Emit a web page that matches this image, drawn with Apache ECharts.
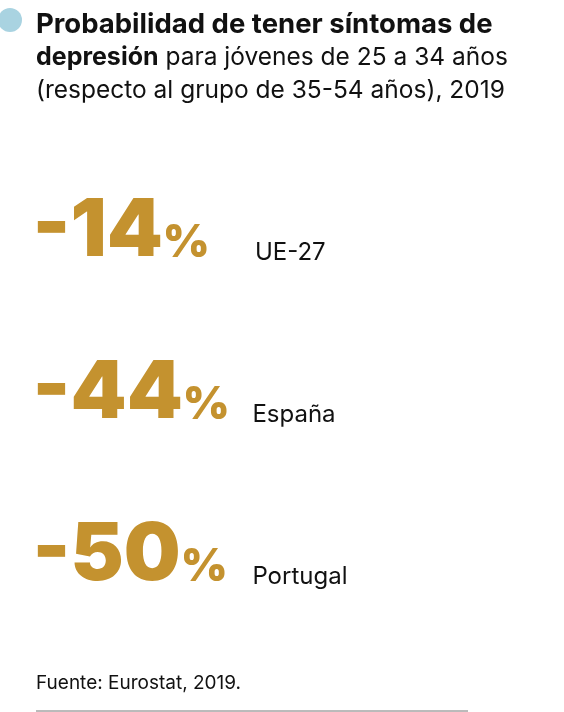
<!DOCTYPE html>
<html>
<head>
<meta charset="utf-8">
<script src="https://cdn.jsdelivr.net/npm/echarts@6/dist/echarts.min.js"></script>
<style>
  html, body { margin: 0; padding: 0; background: #fff; }
  #chart { width: 564px; height: 712px; }
</style>
</head>
<body>
<div id="chart"></div>
<script>
'use strict';

var paises = ['UE-27', 'España', 'Portugal'];
var valores = [-14, -44, -50];
var tituloLineas = [
  ['Probabilidad de tener síntomas de', ''],
  ['depresión', ' para jóvenes de 25 a 34 años'],
  ['', '(respecto al grupo de 35-54 años), 2019']
];
var fuente = 'Fuente: Eurostat, 2019.';

var dorado = '#c4922f';
var fuenteTexto = 'Inter, Roboto, sans-serif';

// la primera linea en negrita va algo mas ancha en el original
var tituloTexto = tituloLineas.map(function(l, i) {
  var s = '';
  if (l[0]) s += '{' + (i == 0 ? 'b1' : 'b') + '|' + l[0] + '}';
  if (l[1]) s += '{r|' + l[1] + '}';
  return s;
}).join('\n');

var chart = echarts.init(document.getElementById('chart'));

var option = {
  backgroundColor: '#fff',
  animation: false,
  title: [{
    text: tituloTexto,
    left: 36,
    top: 8,
    padding: 0,
    textStyle: {
      rich: {
        b1: { fontFamily: fuenteTexto, fontWeight: 'bold', fontSize: 27.5, color: '#111', lineHeight: 33 },
        b: { fontFamily: fuenteTexto, fontWeight: 'bold', fontSize: 25, color: '#111', lineHeight: 33 },
        r: { fontFamily: fuenteTexto, fontWeight: 'normal', fontSize: 24.5, color: '#111', lineHeight: 33 }
      }
    }
  }, {
    text: fuente,
    left: 36,
    top: 674,
    padding: 0,
    textStyle: { fontFamily: fuenteTexto, fontWeight: 'normal', fontSize: 19, color: '#111' }
  }],
  grid: { left: 36, right: 20, top: 150, bottom: 76 },
  xAxis: { type: 'value', min: 0, max: 1, show: false },
  yAxis: { type: 'category', data: paises, inverse: true, show: false },
  series: [{
    name: 'cifras',
    type: 'scatter',
    silent: true,
    symbolSize: 1,
    itemStyle: { color: 'rgba(0,0,0,0)', opacity: 1 },
    data: valores.map(function(v, i) { return [0, paises[i], v]; }),
    label: {
      show: true,
      position: 'right',
      distance: -4,
      offset: [0, -4],
      formatter: function(p) { return '{n|' + p.value[2] + '}{p|%}'; },
      rich: {
        n: { fontFamily: fuenteTexto, fontWeight: 900, fontSize: 80, color: dorado, lineHeight: 90, verticalAlign: 'bottom' },
        p: { fontFamily: fuenteTexto, fontWeight: 900, fontSize: 45, color: dorado, lineHeight: 90, verticalAlign: 'bottom', padding: [0, 0, 6, 0] }
      }
    }
  }, {
    name: 'paises',
    type: 'scatter',
    silent: true,
    symbolSize: 1,
    itemStyle: { color: 'rgba(0,0,0,0)', opacity: 1 },
    data: paises.map(function(p, i) { return [i == 0 ? 0.43 : 0.425, p]; }),
    label: {
      show: true,
      position: 'right',
      distance: 0,
      offset: [0, 22],
      formatter: function(p) { return p.value[1]; },
      fontFamily: fuenteTexto,
      fontSize: 24,
      color: '#111'
    }
  }],
  graphic: [{
    type: 'circle',
    shape: { cx: 10, cy: 20, r: 12 },
    style: { fill: '#a9d3e1' }
  }, {
    type: 'line',
    shape: { x1: 36, y1: 711, x2: 468, y2: 711 },
    style: { stroke: '#777', lineWidth: 1 }
  }]
};

chart.setOption(option);
</script>
</body>
</html>
